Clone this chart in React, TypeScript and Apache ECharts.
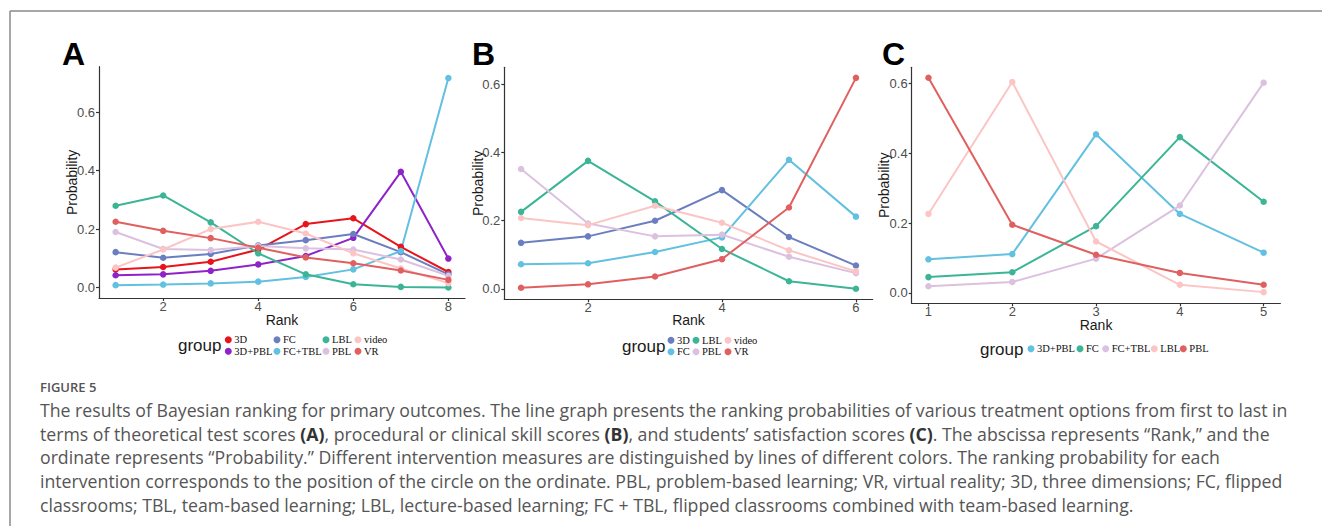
import React, { useEffect, useRef } from "react";
import * as echarts from "echarts";

// ---------- DATA ----------
// Panel A: theoretical test scores
const ranksA = [1, 2, 3, 4, 5, 6, 7, 8];
const groupsA = ["3D", "3D+PBL", "FC", "FC+TBL", "LBL", "PBL", "video", "VR"];
const a_3D = [0.062, 0.07, 0.088, 0.13, 0.217, 0.237, 0.139, 0.053];
const a_3DPBL = [0.042, 0.045, 0.057, 0.079, 0.108, 0.17, 0.396, 0.099];
const a_FC = [0.121, 0.102, 0.115, 0.144, 0.162, 0.183, 0.121, 0.045];
const a_FCTBL = [0.008, 0.01, 0.014, 0.02, 0.036, 0.062, 0.125, 0.717];
const a_LBL = [0.28, 0.315, 0.223, 0.117, 0.045, 0.011, 0.002, 0.0];
const a_PBL = [0.19, 0.132, 0.128, 0.142, 0.134, 0.13, 0.096, 0.04];
const a_video = [0.068, 0.13, 0.2, 0.225, 0.185, 0.117, 0.065, 0.015];
const a_VR = [0.225, 0.194, 0.169, 0.136, 0.103, 0.083, 0.058, 0.026];

// Panel B: procedural or clinical skill scores
const ranksB = [1, 2, 3, 4, 5, 6];
const groupsB = ["3D", "FC", "LBL", "PBL", "video", "VR"];
const b_3D = [0.135, 0.154, 0.2, 0.29, 0.152, 0.068];
const b_FC = [0.072, 0.075, 0.108, 0.151, 0.379, 0.212];
const b_LBL = [0.226, 0.376, 0.257, 0.117, 0.022, 0.0];
const b_PBL = [0.352, 0.192, 0.154, 0.159, 0.094, 0.046];
const b_video = [0.208, 0.187, 0.244, 0.194, 0.113, 0.051];
const b_VR = [0.003, 0.013, 0.036, 0.087, 0.239, 0.62];

// Panel C: students' satisfaction scores
const ranksC = [1, 2, 3, 4, 5];
const groupsC = ["3D+PBL", "FC", "FC+TBL", "LBL", "PBL"];
const c_3DPBL = [0.096, 0.111, 0.454, 0.226, 0.115];
const c_FC = [0.045, 0.059, 0.191, 0.446, 0.261];
const c_FCTBL = [0.019, 0.031, 0.098, 0.25, 0.602];
const c_LBL = [0.226, 0.604, 0.147, 0.023, 0.002];
const c_PBL = [0.616, 0.195, 0.109, 0.057, 0.023];

// Tick labels
const xTicksA = [2, 4, 6, 8];
const xTicksB = [2, 4, 6];
const xTicksC = [1, 2, 3, 4, 5];
const yTicks = [0, 0.2, 0.4, 0.6];

// Colours
const colorsA = ["#e8141c", "#8e24c8", "#6b7fc0", "#62c0e0", "#3bb595", "#dcc0e0", "#fcc5c5", "#e06060"];
const colorsB = ["#6b7fc0", "#62c0e0", "#3bb595", "#dcc0e0", "#fcc5c5", "#e06060"];
const colorsC = ["#62c0e0", "#3bb595", "#dcc0e0", "#fcc5c5", "#e06060"];

const captionTitle = "FIGURE 5";
const captionLines = [
  "The results of Bayesian ranking for primary outcomes. The line graph presents the ranking probabilities of various treatment options from first to last in",
  "terms of theoretical test scores {b|(A)}, procedural or clinical skill scores {b|(B)}, and students’ satisfaction scores {b|(C)}. The abscissa represents “Rank,” and the",
  "ordinate represents “Probability.” Different intervention measures are distinguished by lines of different colors. The ranking probability for each",
  "intervention corresponds to the position of the circle on the ordinate. PBL, problem-based learning; VR, virtual reality; 3D, three dimensions; FC, flipped",
  "classrooms; TBL, team-based learning; LBL, lecture-based learning; FC + TBL, flipped classrooms combined with team-based learning.",
];

// ---------- LAYOUT ----------
const SANS = "'Liberation Sans', Arial, Helvetica, sans-serif";
const SERIF = "'Liberation Serif', 'Times New Roman', serif";
const CAP = "'Open Sans', 'Noto Sans', sans-serif";

const panels = [
  {
    key: "A",
    ranks: ranksA,
    groups: groupsA,
    values: [a_3D, a_3DPBL, a_FC, a_FCTBL, a_LBL, a_PBL, a_video, a_VR],
    colors: colorsA,
    xTicks: xTicksA,
    grid: { left: 99, top: 66.7, width: 366, height: 231.3 },
    xMin: 0.65, xMax: 8.35, yMin: -0.036, yMax: 0.756,
    yNameGap: 20.5, xNameGap: 15, xLabelMargin: 2,
    letterX: 62,
    groupX: 178, groupY: 345.5,
    legendCols: [228.3, 277, 326, 358], legendRows: [339.5, 351], legendByCol: true,
  },
  {
    key: "B",
    ranks: ranksB,
    groups: groupsB,
    values: [b_3D, b_FC, b_LBL, b_PBL, b_video, b_VR],
    colors: colorsB,
    xTicks: xTicksB,
    grid: { left: 504.3, top: 67.3, width: 368.4, height: 232 },
    xMin: 0.75, xMax: 6.25, yMin: -0.031, yMax: 0.651,
    yNameGap: 19.8, xNameGap: 14, xLabelMargin: 1.5,
    letterX: 472,
    groupX: 622, groupY: 346,
    legendCols: [671, 696, 728], legendRows: [340, 351.5], legendByCol: true,
  },
  {
    key: "C",
    ranks: ranksC,
    groups: groupsC,
    values: [c_3DPBL, c_FC, c_FCTBL, c_LBL, c_PBL],
    colors: colorsC,
    xTicks: xTicksC,
    grid: { left: 911.7, top: 67.3, width: 368.7, height: 236 },
    xMin: 0.8, xMax: 5.2, yMin: -0.03, yMax: 0.646,
    yNameGap: 20.7, xNameGap: 15, xLabelMargin: 1.5,
    letterX: 882,
    groupX: 980, groupY: 349,
    legendCols: [1031, 1080, 1105.7, 1154.3, 1183.3], legendRows: [348.5], legendByCol: false,
  },
];

function buildOption() {
  const grids: any[] = [];
  const xAxes: any[] = [];
  const yAxes: any[] = [];
  const series: any[] = [];
  const legends: any[] = [];
  const graphics: any[] = [];

  const axisLineStyle = { color: "#333", width: 1.2 };

  panels.forEach((p, pi) => {
    grids.push({ ...p.grid, containLabel: false });
    xAxes.push({
      type: "value",
      gridIndex: pi,
      min: p.xMin,
      max: p.xMax,
      name: "Rank",
      nameLocation: "middle",
      nameGap: p.xNameGap,
      nameMoveOverlap: false,
      nameTextStyle: { fontFamily: SANS, fontSize: 14, color: "#1a1a1a", lineHeight: 14 },
      axisLine: { onZero: false, lineStyle: axisLineStyle },
      axisTick: { customValues: p.xTicks, length: 3, lineStyle: axisLineStyle },
      axisLabel: {
        customValues: p.xTicks,
        margin: p.xLabelMargin,
        fontFamily: SANS,
        fontSize: 13,
        lineHeight: 13,
        color: "#4d4d4d",
        formatter: (v: number) => String(Math.round(v)),
      },
      splitLine: { show: false },
    });
    yAxes.push({
      type: "value",
      gridIndex: pi,
      min: p.yMin,
      max: p.yMax,
      name: "Probability",
      nameLocation: "middle",
      nameGap: p.yNameGap,
      nameMoveOverlap: false,
      nameTextStyle: { fontFamily: SANS, fontSize: 14, color: "#1a1a1a", lineHeight: 14 },
      axisLine: { onZero: false, show: true, lineStyle: axisLineStyle },
      axisTick: { show: true, customValues: yTicks, length: 3, lineStyle: axisLineStyle },
      axisLabel: {
        customValues: yTicks,
        margin: 4,
        fontFamily: SANS,
        fontSize: 13,
        color: "#4d4d4d",
        formatter: (v: number) => v.toFixed(1),
      },
      splitLine: { show: false },
    });

    p.groups.forEach((g, gi) => {
      const name = `${p.key}|${g}`;
      series.push({
        type: "line",
        name,
        xAxisIndex: pi,
        yAxisIndex: pi,
        data: p.ranks.map((r, i) => [r, p.values[gi][i]]),
        symbol: "circle",
        symbolSize: 6.5,
        showSymbol: true,
        lineStyle: { width: 2, color: p.colors[gi] },
        itemStyle: { color: p.colors[gi] },
        emphasis: { disabled: true },
        silent: true,
      });
      let x: number, y: number;
      if (p.legendByCol) {
        x = p.legendCols[Math.floor(gi / 2)];
        y = p.legendRows[gi % 2];
      } else {
        x = p.legendCols[gi];
        y = p.legendRows[0];
      }
      legends.push({
        data: [{ name, icon: "circle", itemStyle: { color: p.colors[gi] } }],
        left: x - 3.5,
        top: y - 5.25,
        padding: 0,
        itemGap: 0,
        itemWidth: 7,
        itemHeight: 7,
        selectedMode: false,
        formatter: (n: string) => n.split("|")[1],
        textStyle: { fontFamily: SERIF, fontSize: 10.5, lineHeight: 10.5, color: "#111", padding: [0, 0, 0, -2.5] },
      });
    });

    graphics.push({
      type: "text",
      x: p.letterX,
      y: 54,
      style: { text: p.key, fontFamily: SANS, fontWeight: "bold", fontSize: 32, fill: "#000", verticalAlign: "middle", align: "left" },
    });
    graphics.push({
      type: "text",
      x: p.groupX,
      y: p.groupY,
      style: { text: "group", fontFamily: SANS, fontSize: 17, fill: "#1a1a1a", verticalAlign: "middle", align: "left" },
    });
  });

  // frame lines
  graphics.push({ type: "line", shape: { x1: 10, y1: 11, x2: 1322, y2: 11 }, style: { stroke: "#8a8a8a", lineWidth: 1.5 } });
  graphics.push({ type: "line", shape: { x1: 10, y1: 11, x2: 10, y2: 526 }, style: { stroke: "#8a8a8a", lineWidth: 1.5 } });

  // caption
  graphics.push({
    type: "text",
    x: 40,
    y: 387,
    style: { text: captionTitle, fontFamily: CAP, fontSize: 13, fontWeight: 600, fill: "#555", verticalAlign: "middle", align: "left" },
  });
  const lineYs = [410, 433.5, 457, 481, 505];
  captionLines.forEach((t, i) => {
    graphics.push({
      type: "text",
      x: 40,
      y: lineYs[i],
      style: {
        text: t,
        fontFamily: CAP,
        fontSize: 17.7,
        fontWeight: "normal",
        fill: "#555",
        verticalAlign: "middle",
        align: "left",
        rich: { b: { fontFamily: CAP, fontSize: 17.7, fontWeight: "bold", fill: "#333" } },
      },
    });
  });

  return {
    animation: false,
    grid: grids,
    xAxis: xAxes,
    yAxis: yAxes,
    series,
    legend: legends,
    graphic: graphics,
  };
}

export default function App() {
  const ref = useRef<HTMLDivElement>(null);
  useEffect(() => {
    if (!ref.current) return;
    const chart = echarts.init(ref.current, null, { renderer: "svg" });
    chart.setOption(buildOption() as any);
    return () => chart.dispose();
  }, []);
  return (
    <div
      ref={ref}
      style={{ position: "absolute", left: 0, top: 0, width: 1322, height: 526, background: "#fff" }}
    />
  );
}
